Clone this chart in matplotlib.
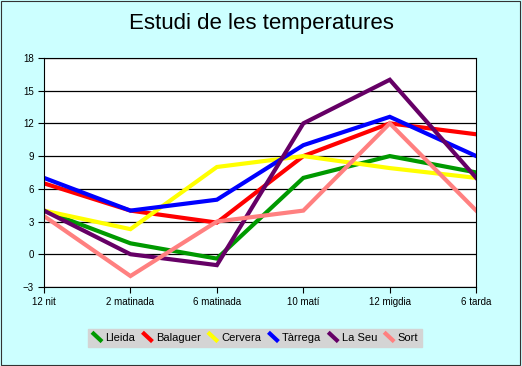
import matplotlib
matplotlib.use("Agg")
import matplotlib.pyplot as plt
from matplotlib.legend_handler import HandlerLine2D
from matplotlib.lines import Line2D
from matplotlib.patches import Rectangle

plt.rcParams['font.family'] = ['Liberation Sans', 'DejaVu Sans']

# dades
hores = ['12 nit', '2 matinada', '6 matinada', '10 matí', '12 migdia', '6 tarda']
lleida = [4, 1, -0.4, 7, 9, 7.5]
balaguer = [6.5, 4, 2.9, 9, 12, 11]
cervera = [4, 2.3, 8, 9, 7.9, 7]
tarrega = [7, 4, 5, 10, 12.6, 9]
la_seu = [4, 0, -1, 12, 16, 7]
sort = [3.5, -2, 3, 4, 12, 4]

series = [('Lleida', lleida, '#009900'),
          ('Balaguer', balaguer, '#FF0000'),
          ('Cervera', cervera, '#FFFF00'),
          ('Tàrrega', tarrega, '#0000FF'),
          ('La Seu', la_seu, '#660066'),
          ('Sort', sort, '#FF8080')]


class DiagHandler(HandlerLine2D):
    # linia en diagonal a la llegenda, com a l'Excel
    def create_artists(self, legend, orig_handle, xdescent, ydescent,
                       width, height, fontsize, trans):
        l = Line2D([width * 0.05, width * 0.95], [height * 1.1, -height * 0.1],
                   color=orig_handle.get_color(), lw=orig_handle.get_linewidth(),
                   solid_capstyle='butt')
        l.set_transform(trans)
        return [l]


fig = plt.figure(figsize=(5.22, 3.66), dpi=100, facecolor='#CCFFFF')
fig.patches.append(Rectangle((0.002, 0.003), 0.995, 0.994, transform=fig.transFigure,
                             fill=False, edgecolor='#333333', lw=0.8))
ax = fig.add_axes([0.0843, 0.216, 0.828, 0.6257])
ax.set_facecolor('white')

x = list(range(len(hores)))
for nom, vals, c in series:
    ax.plot(x, vals, color=c, lw=3, label=nom, solid_joinstyle='miter')

ax.set_xlim(0, len(hores) - 1)
ax.set_ylim(-3, 18)
ax.set_yticks(range(-3, 19, 3))
ax.set_xticks(x)
ax.set_xticklabels(hores)
ax.yaxis.grid(True, color='black', lw=0.9)
ax.set_axisbelow(True)
ax.tick_params(direction='out', length=4, width=0.8, labelsize=7, colors='black')
for s in ax.spines.values():
    s.set_color('black')
    s.set_linewidth(0.8)

fig.text(0.5, 0.935, 'Estudi de les temperatures', ha='center', va='center', fontsize=16)

leg = fig.legend(loc='center', bbox_to_anchor=(0.488, 0.077), ncol=6, fontsize=8,
                 frameon=True, fancybox=False, handlelength=1.0, handletextpad=0.25,
                 columnspacing=0.6, borderpad=0.35, borderaxespad=0,
                 handler_map={Line2D: DiagHandler()})
leg.get_frame().set_facecolor('#D4D4D4')
leg.get_frame().set_edgecolor('#D4D4D4')
leg.get_frame().set_alpha(1)

fig.savefig('out.png', dpi=100, facecolor=fig.get_facecolor())
